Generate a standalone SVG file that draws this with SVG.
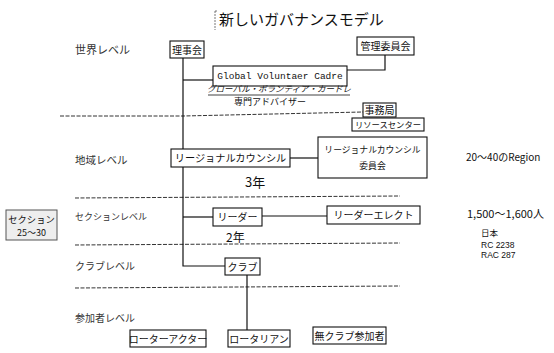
<svg xmlns="http://www.w3.org/2000/svg" width="554" height="353" viewBox="0 0 554 353">
<style>
text{font-family:"Noto Sans CJK JP","Liberation Sans",sans-serif;fill:#111}
.box{fill:#fff;stroke:#111;stroke-width:1.1}
.n{font-size:10px;text-anchor:middle}
.lvl{font-size:10.5px;fill:#333}
.con{fill:none;stroke:#111;stroke-width:1.2}
.sep{fill:none;stroke:#333;stroke-width:1;stroke-dasharray:4 1.5}
.mono{font-family:"Liberation Mono",monospace;font-size:9.5px;text-anchor:middle}
</style>
<rect width="554" height="353" fill="#fff"/>
<g id="title">
<path d="M215 11 V30 M215 11 h3" fill="none" stroke="#555" stroke-width="0.8" stroke-dasharray="2 1"/>
<text x="219" y="25" style="font-size:15px">新しいガバナンスモデル</text>
</g>
<g id="separators">
<path class="sep" d="M60 116 L183 116 L363 112"/>
<path class="sep" d="M75 198 L400 196"/>
<path class="sep" d="M75 245 L400 243"/>
<path class="sep" d="M75 288 L400 286"/>
</g>
<g id="levels">
<text class="lvl" x="75" y="54" style="font-size:11px">世界レベル</text>
<text class="lvl" x="75" y="164">地域レベル</text>
<text class="lvl" x="75" y="220" style="font-size:9px">セクションレベル</text>
<text class="lvl" x="75" y="270" style="font-size:10px">クラブレベル</text>
<text class="lvl" x="75" y="322" style="font-size:10px">参加者レベル</text>
</g>
<g id="connectors">
<path class="con" d="M183 58 V266 H225"/>
<path class="con" d="M183 80 H213"/>
<path class="con" d="M385 55 V70 H347"/>
<path class="con" d="M290 158 H318"/>
<path class="con" d="M183 217 H213"/>
<path class="con" d="M262 216 H327"/>
<path class="con" d="M247 275 V330"/>
</g>
<g id="rijikai"><rect class="box" x="170" y="41" width="34" height="17"/><text class="n" x="187" y="53.5">理事会</text></g>
<g id="kanri"><rect class="box" x="357" y="37" width="57" height="18"/><text class="n" x="385.5" y="50">管理委員会</text></g>
<g id="gvc"><rect class="box" x="213" y="66" width="134" height="20"/><text class="mono" x="280" y="79">Global Voluntaer Cadre</text></g>
<g id="gvc-label">
<text x="279" y="92" style="font-size:8.5px;text-anchor:middle;font-style:italic">グローバル・ボランティア・カードレ</text>
<line x1="208" y1="95" x2="350" y2="95" stroke="#111" stroke-width="0.8"/>
<text x="270" y="105" style="font-size:9px;text-anchor:middle">専門アドバイザー</text>
</g>
<g id="jimukyoku"><rect class="box" x="363" y="103" width="33" height="14"/><text class="n" x="379.5" y="114">事務局</text></g>
<g id="resource"><rect class="box" x="352" y="118" width="72" height="13"/><text class="n" x="388" y="128.3" style="font-size:8.3px">リソースセンター</text></g>
<g id="rc"><rect class="box" x="171" y="149" width="119" height="18"/><text class="n" x="230.5" y="162" style="font-size:10.2px">リージョナルカウンシル</text></g>
<text x="245" y="187" style="font-size:13px">3年</text>
<g id="rcc"><rect class="box" x="318" y="137" width="109" height="41"/><text class="n" x="372.5" y="153" style="font-size:8.8px">リージョナルカウンシル</text><text class="n" x="372.5" y="169" style="font-size:8.8px">委員会</text></g>
<text x="466" y="161" style="font-size:10px">20～40のRegion</text>
<g id="section"><rect x="6" y="210" width="51" height="30" fill="#eee" stroke="#555" stroke-width="1"/><text x="31.5" y="223" style="font-size:9.3px;text-anchor:middle">セクション</text><text x="31.5" y="236" style="font-size:9px;text-anchor:middle">25～30</text></g>
<g id="leader"><rect class="box" x="213" y="208" width="49" height="18"/><text class="n" x="237.5" y="221">リーダー</text></g>
<g id="leader-elect"><rect class="box" x="327" y="206" width="93" height="18"/><text class="n" x="373.5" y="219">リーダーエレクト</text></g>
<text x="226" y="242" style="font-size:12px">2年</text>
<g id="stats">
<text x="467" y="218" style="font-size:11px">1,500～1,600人</text>
<text x="481" y="236" style="font-size:8.5px">日本</text>
<text x="481" y="248" style="font-family:'Liberation Sans',sans-serif;font-size:8.5px">RC  2238</text>
<text x="481" y="258" style="font-family:'Liberation Sans',sans-serif;font-size:8.5px">RAC  287</text>
</g>
<g id="club"><rect class="box" x="225" y="258" width="35" height="17"/><text class="n" x="242.5" y="270.5">クラブ</text></g>
<g id="rotaract"><rect class="box" x="130" y="330" width="76" height="17"/><text class="n" x="168" y="342.5">ローターアクター</text></g>
<g id="rotarian"><rect class="box" x="228" y="330" width="62" height="17"/><text class="n" x="259" y="342.5">ロータリアン</text></g>
<g id="nonclub"><rect class="box" x="313" y="327" width="73" height="17"/><text class="n" x="349.5" y="339.5">無クラブ参加者</text></g>
</svg>
